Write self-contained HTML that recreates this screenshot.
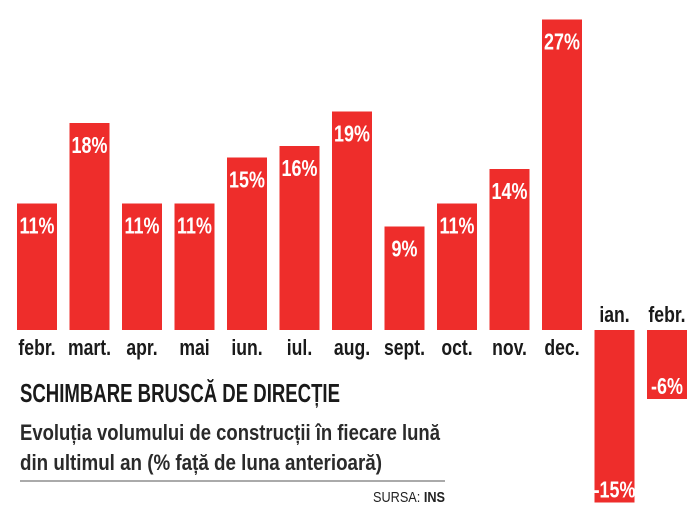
<!DOCTYPE html>
<html><head><meta charset="utf-8"><style>
html,body{margin:0;padding:0;background:#fff;}
svg{display:block;font-family:"Liberation Sans",sans-serif;}
</style></head><body>
<svg id="chart" width="699" height="519" viewBox="0 0 699 519">
<g id="bars"></g>
<text transform="translate(20,402) scale(0.8,1)" font-size="26" font-weight="bold" fill="#1a1a1a" textLength="400" lengthAdjust="spacingAndGlyphs">SCHIMBARE BRUSCĂ DE DIRECȚIE</text>
<text x="20" y="440" font-size="22" font-weight="bold" fill="#2a2a2a" textLength="420" lengthAdjust="spacingAndGlyphs">Evoluția volumului de construcții în fiecare lună</text>
<text x="20" y="470" font-size="22" font-weight="bold" fill="#2a2a2a" textLength="362" lengthAdjust="spacingAndGlyphs">din ultimul an (% față de luna anterioară)</text>
<line x1="20" y1="481" x2="445" y2="481" stroke="#555" stroke-width="1"/>
<text x="445" y="502" font-size="15" fill="#222" text-anchor="end" textLength="72" lengthAdjust="spacingAndGlyphs">SURSA: <tspan font-weight="bold">INS</tspan></text>
</svg>
<script>
const months = ["febr.","mart.","apr.","mai","iun.","iul.","aug.","sept.","oct.","nov.","dec.","ian.","febr."];
const values = [11,18,11,11,15,16,19,9,11,14,27,-15,-6];
const ns = "http://www.w3.org/2000/svg";
const g = document.getElementById("bars");
const base = 330, unit = 11.5, x0 = 17, step = 52.5, bw = 40;
const yScale = v => base - v * unit;
const xScale = i => x0 + i * step;
values.forEach((v, i) => {
  const x = xScale(i);
  const top = Math.min(yScale(v), base), h = Math.abs(yScale(v) - base);
  const r = document.createElementNS(ns, "rect");
  
  
  r.setAttribute("x", x); r.setAttribute("y", top);
  r.setAttribute("width", bw); r.setAttribute("height", h);
  r.setAttribute("fill", "#ee2d2b");
  g.appendChild(r);
  const t = document.createElementNS(ns, "text");
  
  
  const cx = x + bw / 2;
  const ty = v >= 0 ? top + 30 : top + h - 5;
  t.setAttribute("transform", `translate(${cx},${ty}) scale(0.78,1)`);
  t.setAttribute("text-anchor", "middle");
  t.setAttribute("font-size", "23");
  t.setAttribute("font-weight", "bold");
  t.setAttribute("fill", "#fff");
  t.textContent = v + "%";
  g.appendChild(t);
  const m = document.createElementNS(ns, "text");
  
  
  const my = v >= 0 ? base + 25 : base - 8;
  m.setAttribute("transform", `translate(${cx},${my}) scale(0.8,1)`);
  m.setAttribute("text-anchor", "middle");
  m.setAttribute("font-size", "22");
  m.setAttribute("font-weight", "bold");
  m.setAttribute("fill", "#1a1a1a");
  m.textContent = months[i];
  g.appendChild(m);
});
</script>
</body></html>
